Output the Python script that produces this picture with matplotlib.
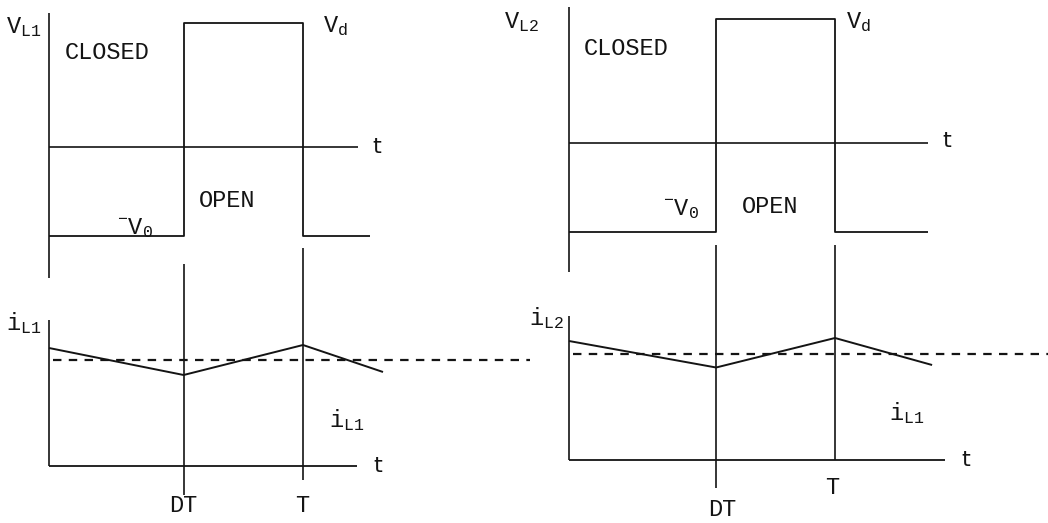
import matplotlib
matplotlib.use("Agg")
import matplotlib.pyplot as plt

plt.rcParams["font.family"] = ["Liberation Mono", "DejaVu Sans"]
plt.rcParams["mathtext.fontset"] = "custom"
plt.rcParams["mathtext.rm"] = "Liberation Mono"
plt.rcParams["mathtext.it"] = "Liberation Mono"

W, H, DPI = 1048, 523, 100

# ---- waveform values (voltages in units of Vd, time in units of T) ----
V_D = 1.0
V_O = 0.72
v_levels = [-V_O, -V_O, V_D, V_D, -V_O, -V_O]

left_duty = 0.53
left_v_t = [0, left_duty, left_duty, 1.0, 1.0, 1.264]
left_i_t = [0, left_duty, 1.0, 1.315]
left_i = [1.18, 0.91, 1.21, 0.94]
left_i_avg = 1.06

right_duty = 0.553
right_v_t = [0, right_duty, right_duty, 1.0, 1.0, 1.35]
right_i_t = [0, right_duty, 1.0, 1.365]
right_i = [1.19, 0.925, 1.22, 0.95]
right_i_avg = 1.06

INK = "#141414"
LW = 1.3

fig = plt.figure(figsize=(W / DPI, H / DPI), dpi=DPI)
fig.patch.set_facecolor("white")


def make_axes(x0, xs, y0, ys, xlim, ylim):
    """Axes whose data origin sits at pixel (x0, y0) with given px/unit scales."""
    left = x0 + xs * xlim[0]
    width = xs * (xlim[1] - xlim[0])
    top = y0 - ys * ylim[1]
    height = ys * (ylim[1] - ylim[0])
    ax = fig.add_axes([left / W, (H - top - height) / H, width / W, height / H])
    ax.set_xlim(xlim)
    ax.set_ylim(ylim)
    ax.axis("off")
    return ax


def line(ax, x, y, **kw):
    kw.setdefault("color", INK)
    kw.setdefault("lw", LW)
    ax.plot(x, y, clip_on=False, solid_capstyle="butt", **kw)


def label(ax, x, y, s, size=17, **kw):
    ax.text(x, y, s, ha="center", va="center", fontsize=size, color=INK,
            clip_on=False, **kw)


def draw_panel(cfg):
    xs = cfg["xs"]
    va = make_axes(cfg["x0"], xs, cfg["v0"], 124, (-0.3, 1.9), (-1.2, 1.2))
    ia = make_axes(cfg["x0"], xs, cfg["i0"], 100, (-0.3, 1.9), (-0.7, 2.3))
    d = cfg["duty"]

    # voltage plot: axes and square wave
    line(va, [0, 0], cfg["v_axis"], lw=1.2)
    line(va, [0, cfg["zero_end"]], [0, 0], lw=1.2)
    line(va, cfg["v_t"], v_levels)

    # current plot: axes, switching instants, ripple and average
    line(ia, [0, 0], [cfg["i_axis_top"], 0], lw=1.2)
    line(ia, [0, cfg["base_end"]], [0, 0], lw=1.3)
    line(ia, [d, d], cfg["dt_span"], lw=1.2)
    line(ia, [1, 1], cfg["t_span"], lw=1.2)
    line(ia, cfg["i_t"], cfg["i"], lw=1.4)
    line(ia, [0.015, cfg["avg_end"]], [cfg["avg"], cfg["avg"]], lw=1.6,
         linestyle=(0, (3.8, 3.3)))

    # annotations
    for ax, (x, y, s, kw) in [(va, t) for t in cfg["v_text"]] + \
                             [(ia, t) for t in cfg["i_text"]]:
        label(ax, x, y, s, **kw)


SANS = {"family": "DejaVu Sans", "size": 16}

panels = [
    dict(x0=49, xs=254, v0=147, i0=466, duty=left_duty,
         v_axis=[1.08, -1.06], zero_end=1.217, v_t=left_v_t,
         i_axis_top=1.46, base_end=1.213,
         dt_span=[2.02, -0.29], t_span=[2.18, -0.14],
         i_t=left_i_t, i=left_i, avg=left_i_avg, avg_end=1.894,
         v_text=[(-0.098, 0.97, r"$\mathrm{V_{L1}}$", {}),
                 (0.228, 0.76, "CLOSED", {}),
                 (1.126, 0.975, r"$\mathrm{V_d}$", {}),
                 (1.29, 0.0, "t", SANS),
                 (0.70, -0.43, "OPEN", {}),
                 (0.339, -0.65, r"$\mathrm{{}^{-}V_0}$", {})],
         i_text=[(-0.098, 1.43, r"$\mathrm{i_{L1}}$", {}),
                 (1.173, 0.46, r"$\mathrm{i_{L1}}$", {}),
                 (1.295, 0.0, "t", SANS),
                 (0.528, -0.40, "DT", {}),
                 (0.996, -0.40, "T", {})]),
    dict(x0=569, xs=266, v0=143, i0=460, duty=right_duty,
         v_axis=[1.10, -1.04], zero_end=1.35, v_t=right_v_t,
         i_axis_top=1.44, base_end=1.414,
         dt_span=[2.15, -0.28], t_span=[2.15, 0.0],
         i_t=right_i_t, i=right_i, avg=right_i_avg, avg_end=1.80,
         v_text=[(-0.177, 0.976, r"$\mathrm{V_{L2}}$", {}),
                 (0.214, 0.766, "CLOSED", {}),
                 (1.09, 0.976, r"$\mathrm{V_d}$", {}),
                 (1.42, 0.02, "t", SANS),
                 (0.42, -0.53, r"$\mathrm{{}^{-}V_0}$", {}),
                 (0.756, -0.516, "OPEN", {})],
         i_text=[(-0.086, 1.42, r"$\mathrm{i_{L2}}$", {}),
                 (1.27, 0.47, r"$\mathrm{i_{L1}}$", {}),
                 (1.49, 0.0, "t", SANS),
                 (0.99, -0.27, "T", {}),
                 (0.575, -0.49, "DT", {})]),
]

for cfg in panels:
    draw_panel(cfg)

fig.savefig("out.png", dpi=DPI, facecolor="white")
